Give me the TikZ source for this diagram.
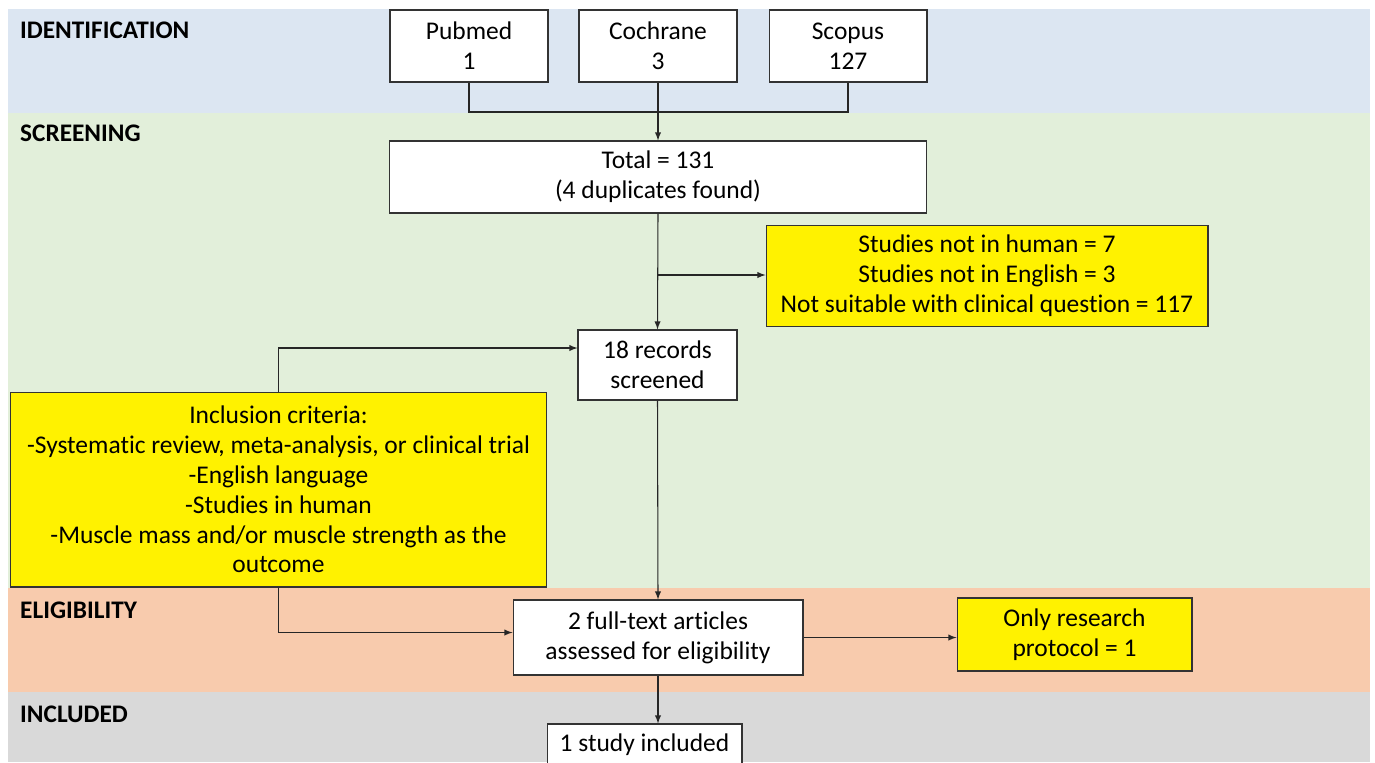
\documentclass[tikz,border=0pt]{standalone}
\usepackage{fontspec}
\setmainfont{Carlito}[Ligatures=NoCommon]
\usetikzlibrary{calc}

\definecolor{bandblue}{HTML}{DCE6F2}
\definecolor{bandgreen}{HTML}{E2EFDA}
\definecolor{bandorange}{HTML}{F8CBAD}
\definecolor{bandgrey}{HTML}{D9D9D9}

\begin{document}
\begin{tikzpicture}[x=.02cm, y=-.02cm, >=latex, font=\fontsize{14.5}{17}\selectfont]
    \tikzstyle{source} = [rectangle, draw=black!80, fill=white, line width=.6pt,
        align=center, minimum width=3.16cm, minimum height=1.44cm]
    \tikzstyle{step box} = [rectangle, draw=black!80, fill=white, line width=.6pt,
        align=center]
    \tikzstyle{reason} = [rectangle, draw=black!80, fill=yellow, line width=.6pt,
        align=center]
    \tikzstyle{phase} = [anchor=west, font=\fontsize{14.4}{16}\selectfont\bfseries]
    \tikzstyle{link} = [line width=.6pt, black!85]

    \useasboundingbox (0, 0) rectangle (1375, 762);
    \clip (0, 0) rectangle (1375, 762);

    % Bands ---------------------------------------------
    \fill[bandblue] (8, 9) rectangle (1370, 113);
    \fill[bandgreen] (8, 113) rectangle (1370, 588);
    \fill[bandorange] (8, 588) rectangle (1370, 692);
    \fill[bandgrey] (8, 692) rectangle (1370, 762);

    \node (ident) at (14, 30) [phase] {IDENTIFICATION};
    \node (screen) at (14, 133) [phase] {SCREENING};
    \node (elig) at (14, 610) [phase] {ELIGIBILITY};
    \node (incd) at (14, 714) [phase] {INCLUDED};
    % ---------------------------------------------------

    % Sources -------------------------------------------
    \node (pubmed) at (469, 46) [source] {Pubmed\\1};
    \node (cochrane) at (658, 46) [source] {Cochrane\\3};
    \node (scopus) at (848, 46) [source] {Scopus\\127};
    \coordinate (join) at (658, 112);

    \draw [link] (pubmed.south) |- (join);
    \draw [link] (scopus.south) |- (join);
    % ---------------------------------------------------

    % Screening
    \node (total) at (658, 177) [step box, minimum width=10.76cm, minimum height=1.44cm]
        {Total = 131\\(4 duplicates found)};
    \node (excluded) at (987, 276) [reason, minimum width=8.84cm, minimum height=2.02cm]
        {Studies not in human = 7\\Studies not in English = 3\\Not suitable with clinical question = 117};
    \node (records) at (657.5, 365) [step box, minimum width=3.18cm, minimum height=1.4cm]
        {18 records\\screened};
    \node (criteria) at (278.5, 489.5) [reason, minimum width=10.74cm, minimum height=3.9cm]
        {Inclusion criteria:\\-Systematic review, meta-analysis, or clinical trial\\-English language\\-Studies in human\\-Muscle mass and/or muscle strength as the\\outcome};
    \coordinate (split) at (658, 275);

    \draw [link, ->] (cochrane.south) -- (total.north);
    \draw [link, ->] (total.south) -- (records.north);
    \draw [link, ->] (split) -- (split -| excluded.west);
    \draw [link, ->] (criteria.north) |- ($(records.west) + (0, -17)$);
    % ---------------------------------------------------

    % Eligibility and inclusion
    \node (fulltext) at (658, 637.5) [step box, minimum width=5.8cm, minimum height=1.5cm]
        {2 full-text articles\\assessed for eligibility};
    \node (protocol) at (1074.5, 634.5) [reason, minimum width=4.7cm, minimum height=1.46cm]
        {Only research\\protocol = 1};
    \node (included) at (644.5, 745) [step box, minimum width=3.9cm, minimum height=.84cm]
        {1 study included};

    \draw [link, ->] (records.south) -- (fulltext.north);
    \draw [link, ->] (criteria.south) |- ($(fulltext.west) + (0, -5)$);
    \draw [link, ->] (fulltext.east) -- (fulltext.east -| protocol.west);
    \draw [link, ->] (fulltext.south) -- (fulltext.south |- included.north);
\end{tikzpicture}
\end{document}
